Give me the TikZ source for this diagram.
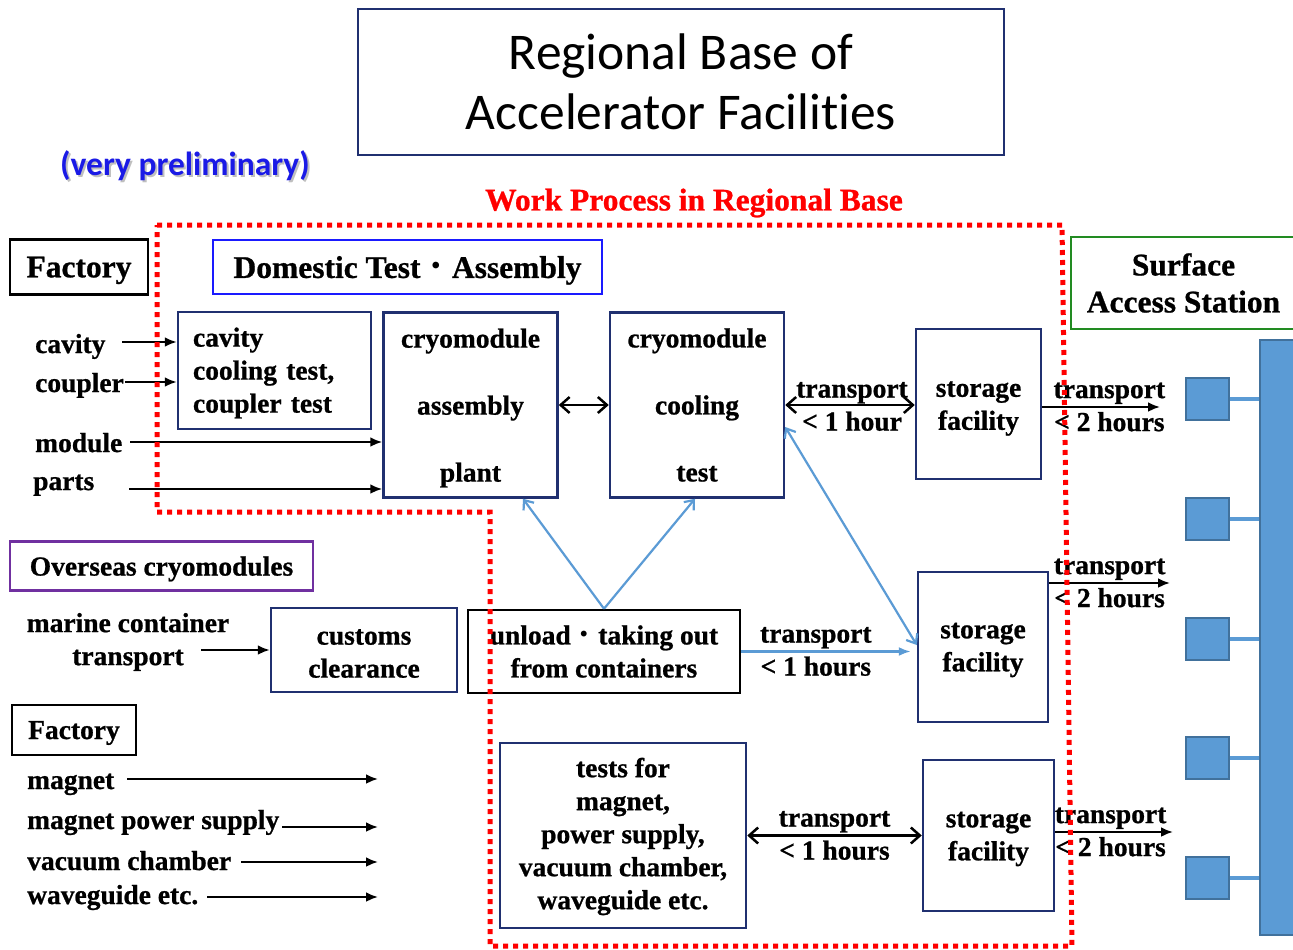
\documentclass[tikz,border=0pt]{standalone}
\usepackage{fontspec}
\setmainfont{Liberation Serif}[BoldFeatures={FakeBold=0.8}]
\newfontfamily\titlefont{Carlito}[Ligatures=NoCommon]
\newfontfamily\cjkfont{Noto Sans CJK JP}
\usetikzlibrary{arrows.meta}
\definecolor{navy}{HTML}{203070}
\definecolor{bluehd}{HTML}{1A1AFF}
\definecolor{grn}{HTML}{228B22}
\definecolor{purp}{HTML}{7030A0}
\definecolor{lblue}{HTML}{5B9BD5}
\definecolor{dblue}{HTML}{41719C}
\definecolor{prelim}{HTML}{1A1AE6}
\newcommand\bodyf{\bfseries\fontsize{27.5}{33}\selectfont}
\newcommand\headf{\bfseries\fontsize{31.5}{37}\selectfont}
\newcommand\jdot{{\cjkfont\mdseries ・}}
\begin{document}
\begin{tikzpicture}[x=1pt,y=-1pt,
  hdbox/.style={draw, line width=2.5pt, inner sep=0pt, font=\headf, align=center},
  bbox/.style={draw=navy, line width=2.5pt, inner sep=0pt},
  lbl/.style={inner sep=0pt, font=\bodyf},
  tl/.style={inner sep=0pt, font=\bodyf, align=center},
  arr/.style={-{Latex[length=12pt,width=10pt]}, line width=2.5pt},
  dbl/.style={{Straight Barb[length=9pt,width=16pt]}-{Straight Barb[length=9pt,width=16pt]}, line width=2.5pt},
  blu/.style={draw=lblue, line width=2.2pt, -{Straight Barb[length=8pt,width=13pt]}},
  blud/.style={draw=lblue, line width=2.2pt, {Straight Barb[length=8pt,width=13pt]}-{Straight Barb[length=8pt,width=13pt]}},
  sqr/.style={fill=lblue, draw=dblue, line width=1.5pt, inner sep=0pt}]
\useasboundingbox (0,0) rectangle (1293,950);
\fill[white] (0,0) rectangle (1293,950);

% title and headings
\node[draw=navy, line width=2pt, minimum width=646, minimum height=146, align=center,
      font=\titlefont\fontsize{51.5}{60}\selectfont] (title) at (681,82) {Regional Base of\\Accelerator Facilities};
\node[font=\titlefont\bfseries\fontsize{33.5}{40}\selectfont, text=gray!50, inner sep=0pt] (presh) at (187,168) {(very preliminary)};
\node[font=\titlefont\bfseries\fontsize{33.5}{40}\selectfont, text=prelim, inner sep=0pt] (pre) at (185,166) {(very preliminary)};
\node[font=\bfseries\fontsize{31.5}{37}\selectfont, text=red, inner sep=0pt] (wp) at (694,203) {Work Process in Regional Base};

\node[hdbox, draw=black, minimum width=138, minimum height=55, text depth=0pt] (fac1) at (79,267) {Factory};
\node[hdbox, draw=bluehd, minimum width=389, minimum height=54, text depth=0pt] (dom) at (407.5,267) {Domestic Test\jdot{}Assembly};
\node[hdbox, draw=grn, minimum width=225, minimum height=92] (sas) at (1183.5,283) {Surface\\Access Station};

% boxes
\node[bbox, minimum width=193, minimum height=117] (cvb) at (274.5,370.5) {};
\node[bbox, minimum width=174, minimum height=185] (asm) at (470.5,405) {};
\node[bbox, minimum width=174, minimum height=185] (cool) at (697,405) {};
\node[bbox, minimum width=125, minimum height=150] (st1) at (978.5,404) {};
\node[bbox, minimum width=130, minimum height=150] (st2) at (983,647) {};
\node[bbox, minimum width=131, minimum height=151] (st3) at (988.5,835.5) {};
\node[bbox, minimum width=186, minimum height=84] (cus) at (364,650) {};
\node[bbox, draw=black, minimum width=272, minimum height=83] (unl) at (604,651.5) {};
\node[bbox, minimum width=246, minimum height=185] (tst) at (623,835.5) {};
\node[bbox, draw=purp, minimum width=303, minimum height=49, font=\bodyf, text depth=0pt] (ovs) at (161.5,566) {Overseas cryomodules};
\node[bbox, draw=black, minimum width=124, minimum height=50, font=\bodyf, text depth=0pt] (fac2) at (74,730) {Factory};

% box texts
\node[tl, text width=163, align=left, yshift=-2.5pt] (cvbt) at (cvb) {cavity\\cooling test,\\coupler test};
\node[tl, font={\bfseries\fontsize{27.5}{67}\selectfont}, yshift=-3pt] (asmt) at (asm) {cryomodule\\assembly\\plant};
\node[tl, font={\bfseries\fontsize{27.5}{67}\selectfont}] (coolt) at (cool) {cryomodule\\cooling\\test};
\node[tl, yshift=-4.5pt] (st1t) at (st1) {storage\\facility};
\node[tl, yshift=-3pt] (st2t) at (st2) {storage\\facility};
\node[tl, yshift=-3.5pt] (st3t) at (st3) {storage\\facility};
\node[tl, yshift=-3.5pt] (cust) at (cus) {customs\\clearance};
\node[tl] (unlt) at (unl) {unload\jdot{}taking out\\from containers};
\node[tl, yshift=-1pt] (tstt) at (tst) {tests for\\magnet,\\power supply,\\vacuum chamber,\\waveguide etc.};

% left labels
\node[lbl, anchor=base west] (lcav) at (35,353) {cavity};
\node[lbl, anchor=base west] (lcoup) at (35,392) {coupler};
\node[lbl, anchor=base west] (lmod) at (35,452) {module};
\node[lbl, anchor=base west] (lpar) at (33,490) {parts};
\node[tl] (lmar) at (128,642) {marine container\\transport};
\node[lbl, anchor=base west] (lmag) at (27,789) {magnet};
\node[lbl, anchor=base west] (lmps) at (27,829) {magnet power supply};
\node[lbl, anchor=base west] (lvac) at (27,870) {vacuum chamber};
\node[lbl, anchor=base west] (lwav) at (27,904) {waveguide etc.};

% left arrows
\coordinate (c1) at (122,342);
\coordinate (c2) at (125,382);
\coordinate (c3) at (130,442);
\coordinate (c4) at (129,489);
\coordinate (c5) at (201,650);
\coordinate (c6) at (127,779); \coordinate (e6) at (378,779);
\coordinate (c7) at (282,827); \coordinate (e7) at (378,827);
\coordinate (c8) at (241,862); \coordinate (e8) at (378,862);
\coordinate (c9) at (207,897); \coordinate (e9) at (378,897);
\draw[arr] (c1) -- (cvb.west|-c1);
\draw[arr] (c2) -- (cvb.west|-c2);
\draw[arr] (c3) -- (asm.west|-c3);
\draw[arr] (c4) -- (asm.west|-c4);
\draw[arr] (c5) -- (cus.west|-c5);
\draw[arr] (c6) -- (e6);
\draw[arr] (c7) -- (e7);
\draw[arr] (c8) -- (e8);
\draw[arr] (c9) -- (e9);

% transport arrows
\coordinate (e1) at (1160,407);
\coordinate (e2) at (1170,583);
\coordinate (e3) at (1173,832);
\draw[dbl] (asm.east) -- (cool.west);
\draw[dbl] (cool.east) -- node[tl, xshift=2pt, yshift=-1.5pt]{transport\\< 1 hour} (cool.east-|st1.west);
\draw[arr] (st1.east|-e1) -- node[tl, pos=0.57]{transport\\< 2 hours} (e1);
\draw[arr] (st2.east|-e2) -- node[tl, pos=0.5]{transport\\< 2 hours} (e2);
\draw[arr] (st3.east|-e3) -- node[tl, pos=0.47]{transport\\< 2 hours} (e3);
\draw[dbl] (tst.east) -- node[tl]{transport\\< 1 hours} (st3.west);

% blue connectors
\coordinate (s2in) at ([xshift=-6pt]st2.west);
\draw[blu] (unl.north) -- ([xshift=52.5pt]asm.south);
\draw[blu] (unl.north) -- ([xshift=-2pt]cool.south);
\draw[blud] ([yshift=-22pt]cool.east) -- ([yshift=2pt]st2.west);
\draw[blu, -{Latex[length=12pt,width=9pt]}] (unl.east) -- node[tl, pos=0.44]{transport\\< 1 hours} (unl.east-|s2in);

% access station
\node[sqr, minimum width=40, minimum height=595] (bar) at (1280,637.5) {};
\foreach \i/\y in {1/399,2/519,3/639,4/758,5/878}{
  \node[sqr, minimum width=43, minimum height=42] (sq\i) at (1207.5,\y) {};
  \draw[lblue, line width=4pt] (sq\i.east) -- (sq\i.east-|bar.west);
}

% work-process boundary
\draw[red, line width=5pt, dash pattern=on 5pt off 5pt]
  (157,225) -- (1062,225) -- (1072,946) -- (490,946) -- (490,512) -- (157,512) -- cycle;
\end{tikzpicture}
\end{document}
